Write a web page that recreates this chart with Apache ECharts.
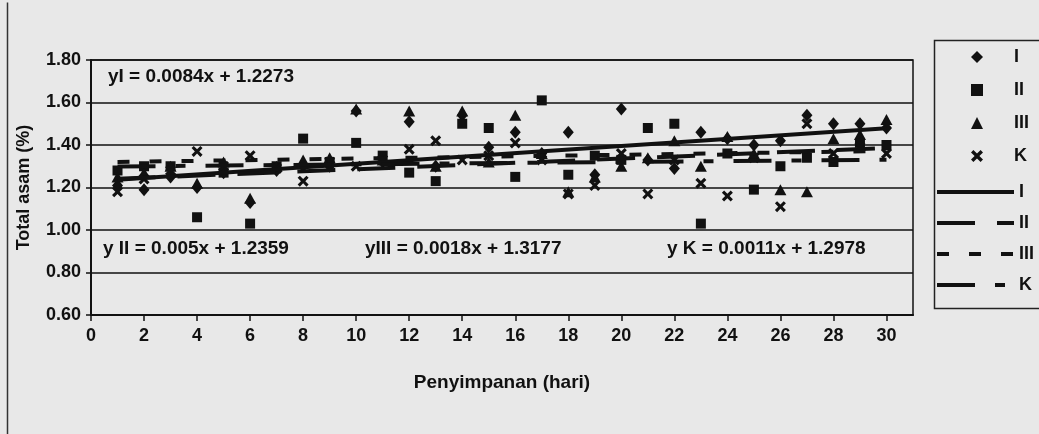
<!DOCTYPE html>
<html>
<head>
<meta charset="utf-8">
<script src="https://cdn.jsdelivr.net/npm/echarts@6/dist/echarts.min.js"></script>
<style>
  html, body { margin: 0; padding: 0; background: #e8e8e8; }
  #chart { width: 1039px; height: 434px; }
</style>
</head>
<body>
<div id="chart"></div>
<script>
// storage days (hari)
const days = [1, 2, 3, 4, 5, 6, 7, 8, 9, 10, 11, 12, 13, 14, 15,
  16, 17, 18, 19, 20, 21, 22, 23, 24, 25, 26, 27, 28, 29, 30];

// total acid (%) per treatment
const valuesI = [1.21, 1.19, 1.25, 1.20, 1.27, 1.13, 1.28, 1.30, 1.30, 1.56, 1.32, 1.51, 1.30, 1.54, 1.39,
  1.46, 1.36, 1.46, 1.26, 1.57, 1.33, 1.29, 1.46, 1.43, 1.40, 1.42, 1.54, 1.50, 1.50, 1.48];
const valuesII = [1.28, 1.30, 1.30, 1.06, 1.27, 1.03, 1.30, 1.43, 1.32, 1.41, 1.35, 1.27, 1.23, 1.50, 1.48,
  1.25, 1.61, 1.26, 1.35, 1.33, 1.48, 1.50, 1.03, 1.36, 1.19, 1.30, 1.34, 1.32, 1.41, 1.40];
const valuesIII = [1.25, 1.27, 1.30, 1.22, 1.32, 1.15, 1.30, 1.33, 1.34, 1.57, 1.33, 1.56, 1.30, 1.56, 1.32,
  1.54, 1.36, 1.18, 1.25, 1.30, 1.34, 1.42, 1.30, 1.44, 1.36, 1.19, 1.18, 1.43, 1.45, 1.52];
const valuesK = [1.18, 1.24, 1.28, 1.37, 1.30, 1.35, 1.29, 1.23, 1.32, 1.30, 1.33, 1.38, 1.42, 1.33, 1.35,
  1.41, 1.33, 1.17, 1.21, 1.36, 1.17, 1.33, 1.22, 1.16, 1.34, 1.11, 1.50, 1.36, 1.39, 1.36];

// trend line end points (day 1 and day 30)
const trendDays = [1, 30];
const trendI = [1.236, 1.479];
const trendII = [1.241, 1.386];
const trendIII = [1.320, 1.372];
const trendK = [1.299, 1.331];

const equations = [
  'yI = 0.0084x + 1.2273',
  'y II = 0.005x + 1.2359',
  'yIII = 0.0018x + 1.3177',
  'y K = 0.0011x + 1.2978'
];

const names = ['I', 'II', 'III', 'K'];

const FONT = 'Liberation Sans';
const INK = '#111';
const crossPath = 'path://M0,2L2,0L5,3L8,0L10,2L7,5L10,8L8,10L5,7L2,10L0,8L3,5Z';
const dashes = ['solid', [38, 22], [12, 20], [38, 20, 10, 20]];

const zip = (xs, ys) => xs.map((x, i) => [x, ys[i]]);

const scatter = (name, vals, symbol, size) => ({
  name: name,
  type: 'scatter',
  data: zip(days, vals),
  symbol: symbol,
  symbolSize: size,
  itemStyle: { color: INK, opacity: 1 },
  z: 3
});

const trend = (name, vals, dash) => ({
  name: name,
  type: 'line',
  data: zip(trendDays, vals),
  symbol: 'none',
  lineStyle: { color: INK, width: 4, type: dash, cap: 'butt' },
  itemStyle: { color: INK },
  z: 4
});

const myChart = echarts.init(document.getElementById('chart'));

const eqText = (txt, left, top) => ({
  type: 'text',
  left: left,
  top: top,
  style: { text: txt, font: 'bold 19px "' + FONT + '"', fill: INK }
});

const legendText = { fontFamily: FONT, fontWeight: 'bold', fontSize: 18, color: INK };

const option = {
  backgroundColor: '#e8e8e8',
  animation: false,
  grid: {
    left: 91, right: 126, top: 60, bottom: 119,
    show: true, borderColor: INK, borderWidth: 1.5
  },
  xAxis: {
    type: 'value',
    min: 0, max: 31, interval: 2,
    name: 'Penyimpanan (hari)',
    nameLocation: 'middle',
    nameGap: 58,
    nameTextStyle: { fontFamily: FONT, fontWeight: 'bold', fontSize: 19, color: INK },
    axisLine: { lineStyle: { color: INK, width: 2 } },
    axisTick: { show: true, length: 6, lineStyle: { color: INK, width: 1.5 } },
    axisLabel: { showMaxLabel: false, margin: 12, fontFamily: FONT, fontWeight: 'bold', fontSize: 18, color: INK },
    splitLine: { show: false }
  },
  yAxis: {
    type: 'value',
    min: 0.6, max: 1.8, interval: 0.2,
    name: 'Total asam (%)',
    nameLocation: 'middle',
    nameGap: 58,
    nameTextStyle: { fontFamily: FONT, fontWeight: 'bold', fontSize: 18, color: INK },
    axisLine: { show: true, lineStyle: { color: INK, width: 2 } },
    axisTick: { show: true, length: 5, lineStyle: { color: INK, width: 1.5 } },
    axisLabel: {
      margin: 10, fontFamily: FONT, fontWeight: 'bold', fontSize: 18, color: INK,
      formatter: v => v.toFixed(2)
    },
    splitLine: { show: true, lineStyle: { color: INK, width: 1.5 } }
  },
  legend: [
    {
      data: names.map(n => ({ name: n, itemStyle: { color: INK, opacity: 1 } })),
      orient: 'vertical',
      left: 966, top: 43,
      itemWidth: 12, itemHeight: 12, itemGap: 15,
      textStyle: Object.assign({ padding: [0, 0, 0, 26] }, legendText),
      selectedMode: false
    },
    {
      data: names.map((n, i) => ({
        name: n + ' ',
        itemStyle: { opacity: 0 },
        lineStyle: { color: INK, width: 4, type: dashes[i], cap: 'butt' }
      })),
      orient: 'vertical',
      left: 930, top: 178,
      itemWidth: 77, itemHeight: 14, itemGap: 13,
      textStyle: legendText,
      selectedMode: false
    }
  ],
  graphic: [
    {
      type: 'rect', left: 932, top: 38,
      shape: { width: 130, height: 268 },
      style: { fill: 'none', stroke: '#222', lineWidth: 1.5 }
    },
    {
      type: 'line', left: 5, top: 0,
      shape: { x1: 0, y1: 0, x2: 0, y2: 434 },
      style: { stroke: '#333', lineWidth: 1.5 }
    },
    eqText(equations[0], 108, 67),
    eqText(equations[1], 103, 239),
    eqText(equations[2], 365, 239),
    eqText(equations[3], 667, 239)
  ],
  series: [
    scatter('I', valuesI, 'diamond', [11, 13]),
    scatter('II', valuesII, 'rect', 10),
    scatter('III', valuesIII, 'triangle', [12, 11]),
    scatter('K', valuesK, crossPath, 11),
    trend('I ', trendI, dashes[0]),
    trend('II ', trendII, dashes[1]),
    trend('III ', trendIII, dashes[2]),
    trend('K ', trendK, dashes[3])
  ]
};

myChart.setOption(option);
</script>
</body>
</html>
